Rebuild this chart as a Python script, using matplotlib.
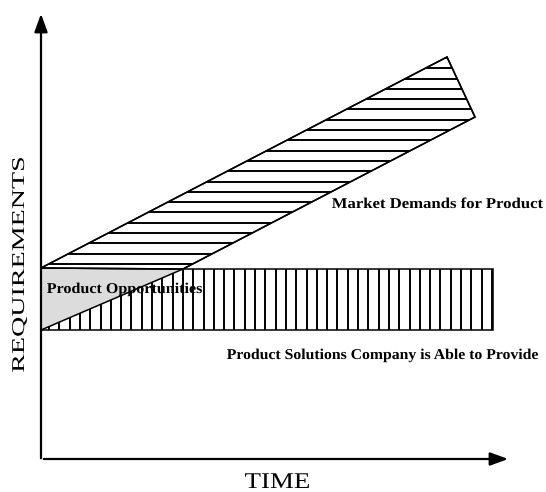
import numpy as np
import matplotlib
matplotlib.use("Agg")
import matplotlib.pyplot as plt
from matplotlib.patches import Polygon, PathPatch
from matplotlib.textpath import TextPath
from matplotlib.font_manager import FontProperties
from matplotlib.transforms import Affine2D

# market demand band (time, requirement)
demand_upper_t = [0, 406]
demand_upper_r = [191, 402]
demand_lower_t = [0, 142, 434]
demand_lower_r = [129, 190, 342]

# what the company can provide
capability_t = [0, 452]
capability_r = [129, 190]

labels = {
    'demand': 'Market Demands for Product',
    'gap': 'Product Opportunities',
    'capability': 'Product Solutions Company is Able to Provide',
}

plt.rcParams['font.family'] = ['Liberation Serif', 'DejaVu Serif']

fig = plt.figure(figsize=(5.46, 4.92), dpi=100)
ax = fig.add_axes([0, 0, 1, 1])
# one data unit == one pixel
ax.set_xlim(-41, 505)
ax.set_ylim(-33, 459)
ax.axis('off')


def wide_text(x, y, s, size, width, bold=False, rotate=0, z=6):
    # text stretched along its reading direction, x = centre, y = baseline
    fp = FontProperties(family='Liberation Serif', weight='bold' if bold else 'normal')
    tp = TextPath((0, 0), s, size=size, prop=fp)
    ext = tp.get_extents()
    sx = width / ext.width
    tr = (Affine2D().translate(-(ext.x0 + ext.width / 2), 0).scale(sx, 1)
          .rotate_deg(rotate).translate(x, y))
    ax.add_patch(PathPatch(tr.transform_path(tp), facecolor='black', lw=0, zorder=z))


lw = 1.1
gap = 10.3

# capability box with vertical hatch
t0, t1 = capability_t
r0, r1 = capability_r
box = Polygon([(t0, r0), (t1, r0), (t1, r1), (t0, r1)], closed=True,
              facecolor='white', edgecolor='black', lw=lw, zorder=2)
ax.add_patch(box)
vl = ax.vlines(np.arange(t0 + 8, t1, gap), r0, r1, color='black', lw=1.4, zorder=2)
vl.set_clip_path(box)

# gray opportunity triangle
tri = Polygon([(demand_lower_t[0], demand_lower_r[0]),
               (demand_lower_t[1], demand_lower_r[1]),
               (demand_upper_t[0], demand_upper_r[0])],
              closed=True, facecolor='#dcdcdc', edgecolor='black', lw=lw, zorder=3)
ax.add_patch(tri)

# demand band with horizontal hatch
band_pts = [(demand_upper_t[0], demand_upper_r[0]),
            (demand_upper_t[1], demand_upper_r[1]),
            (demand_lower_t[2], demand_lower_r[2]),
            (demand_lower_t[1], demand_lower_r[1])]
band = Polygon(band_pts, closed=True, facecolor='white', edgecolor='black', lw=lw, zorder=4)
ax.add_patch(band)
hl = ax.hlines(np.arange(demand_lower_r[1] + 5, demand_upper_r[1], gap), 0, demand_lower_t[2],
               color='black', lw=1.4, zorder=4)
hl.set_clip_path(band)
ax.add_patch(Polygon(band_pts, closed=True, facecolor='none', edgecolor='black', lw=lw, zorder=5))

# axes with arrows
ax.annotate('', xy=(470, 0), xytext=(0, 0),
            arrowprops=dict(arrowstyle='-|>,head_length=1.1,head_width=0.4', color='black', lw=1.6))
ax.annotate('', xy=(0, 448), xytext=(0, -2),
            arrowprops=dict(arrowstyle='-|>,head_length=1.1,head_width=0.4', color='black', lw=1.6))

wide_text(-17, 194, 'REQUIREMENTS', 18, 214, rotate=90)
wide_text(236, -29, 'TIME', 22.5, 64)

wide_text(396.5, 251, labels['demand'], 15, 211, bold=True)
wide_text(83.5, 166, labels['gap'], 15, 155, bold=True)
wide_text(341.5, 100, labels['capability'], 15, 311, bold=True)

fig.savefig('out.png', dpi=100)
